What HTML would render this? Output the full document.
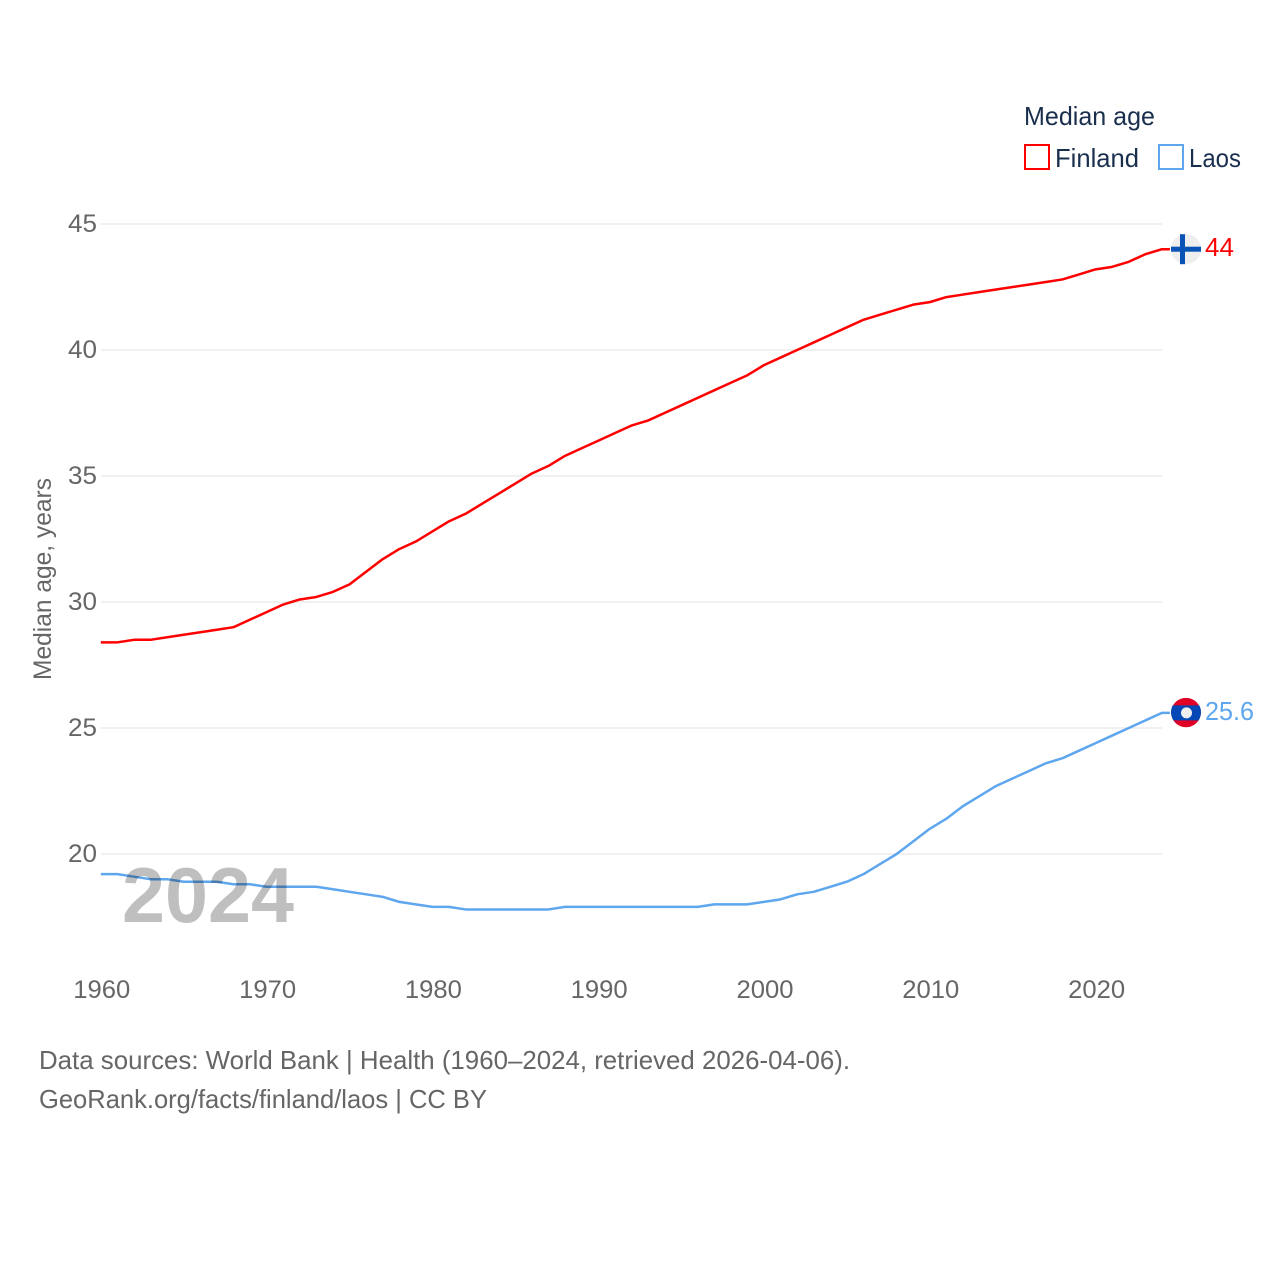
<!DOCTYPE html>
<html lang="en">
<head>
<meta charset="utf-8">
<title>Median age: Finland and Laos</title>
<style>
html,body{margin:0;padding:0;background:#fff}
svg{display:block}
text{font-family:"Liberation Sans",sans-serif}
</style>
</head>
<body>
<svg id="chart" xmlns="http://www.w3.org/2000/svg" width="1280" height="1280" viewBox="0 0 1280 1280">
  <defs>
    <clipPath id="laos-clip"><circle cx="1186" cy="712.3" r="15"/></clipPath>
  </defs>
  <g id="grid"></g>
  <g id="yticks"></g>
  <g id="xticks"></g>
  <text transform="translate(51,579) rotate(-90)" text-anchor="middle" font-size="25" fill="#666" textLength="202" lengthAdjust="spacingAndGlyphs">Median age, years</text>
  <g id="series"></g>
  <text x="122" y="922" font-size="78" font-weight="bold" fill="#000" fill-opacity="0.25" textLength="172" lengthAdjust="spacingAndGlyphs">2024</text>

  <g>
    <text x="1024" y="125" font-size="26" fill="#1a2f4d" textLength="131" lengthAdjust="spacingAndGlyphs">Median age</text>
    <g>
      <rect x="1025" y="145" width="24" height="24" fill="#fff" stroke="#ff0000" stroke-width="2"/>
      <text x="1055" y="167" font-size="26" fill="#1a2f4d" textLength="84" lengthAdjust="spacingAndGlyphs">Finland</text>
    </g>
    <g>
      <rect x="1159" y="145" width="24" height="24" fill="#fff" stroke="#5ea6ee" stroke-width="2"/>
      <text x="1189" y="167" font-size="26" fill="#1a2f4d" textLength="52" lengthAdjust="spacingAndGlyphs">Laos</text>
    </g>
  </g>

  <g id="flags"></g>

  <text x="39" y="1069" font-size="26" fill="#666" textLength="811" lengthAdjust="spacingAndGlyphs">Data sources: World Bank | Health (1960–2024, retrieved 2026-04-06).</text>
  <text x="39" y="1108" font-size="26" fill="#666" textLength="448" lengthAdjust="spacingAndGlyphs">GeoRank.org/facts/finland/laos | CC BY</text>
</svg>
<script>
const years = [1960,1961,1962,1963,1964,1965,1966,1967,1968,1969,1970,1971,1972,1973,1974,1975,1976,1977,1978,1979,1980,1981,1982,1983,1984,1985,1986,1987,1988,1989,1990,1991,1992,1993,1994,1995,1996,1997,1998,1999,2000,2001,2002,2003,2004,2005,2006,2007,2008,2009,2010,2011,2012,2013,2014,2015,2016,2017,2018,2019,2020,2021,2022,2023,2024];
const finland = [28.4,28.4,28.5,28.5,28.6,28.7,28.8,28.9,29.0,29.3,29.6,29.9,30.1,30.2,30.4,30.7,31.2,31.7,32.1,32.4,32.8,33.2,33.5,33.9,34.3,34.7,35.1,35.4,35.8,36.1,36.4,36.7,37.0,37.2,37.5,37.8,38.1,38.4,38.7,39.0,39.4,39.7,40.0,40.3,40.6,40.9,41.2,41.4,41.6,41.8,41.9,42.1,42.2,42.3,42.4,42.5,42.6,42.7,42.8,43.0,43.2,43.3,43.5,43.8,44.0];
const laos = [19.2,19.2,19.1,19.0,19.0,18.9,18.9,18.9,18.8,18.8,18.7,18.7,18.7,18.7,18.6,18.5,18.4,18.3,18.1,18.0,17.9,17.9,17.8,17.8,17.8,17.8,17.8,17.8,17.9,17.9,17.9,17.9,17.9,17.9,17.9,17.9,17.9,18.0,18.0,18.0,18.1,18.2,18.4,18.5,18.7,18.9,19.2,19.6,20.0,20.5,21.0,21.4,21.9,22.3,22.7,23.0,23.3,23.6,23.8,24.1,24.4,24.7,25.0,25.3,25.6];
const yTickValues = [20,25,30,35,40,45];
const xTickValues = [1960,1970,1980,1990,2000,2010,2020];

const NS = 'http://www.w3.org/2000/svg';
const xScale = function (year) { return 100.8 + (year - 1960) * 16.58; };
const yScale = function (value) { return 854 - (value - 20) * 25.2; };
const plotRight = xScale(2024);
const stubEnd = plotRight + 8;

function make(tag, attrs, parent) {
  const el = document.createElementNS(NS, tag);
  for (const k in attrs) el.setAttribute(k, attrs[k]);
  parent.appendChild(el);
  return el;
}

const gridGroup = document.getElementById('grid');
const yGroup = document.getElementById('yticks');
yTickValues.forEach(function (v) {
  const line = make('line', {x1: 101, x2: plotRight, y1: yScale(v), y2: yScale(v), stroke: '#ececec', 'stroke-width': 1.5}, gridGroup);
  
  
  const label = make('text', {x: 97, y: yScale(v) + 8, 'text-anchor': 'end', 'font-size': 25, fill: '#666', textLength: 29, lengthAdjust: 'spacingAndGlyphs'}, yGroup);
  
  
  label.textContent = v;
});

const xGroup = document.getElementById('xticks');
xTickValues.forEach(function (yr) {
  const label = make('text', {x: xScale(yr) + 1, y: 998, 'text-anchor': 'middle', 'font-size': 25, fill: '#666', textLength: 57, lengthAdjust: 'spacingAndGlyphs'}, xGroup);
  
  
  label.textContent = yr;
});

const seriesGroup = document.getElementById('series');
const flagGroup = document.getElementById('flags');

function drawLine(values, color, name) {
  const pts = values.map(function (v, i) { return xScale(years[i]).toFixed(2) + ',' + yScale(v).toFixed(2); });
  const last = values[values.length - 1];
  pts.push(stubEnd.toFixed(2) + ',' + yScale(last).toFixed(2));
  const line = make('polyline', {points: pts.join(' '), fill: 'none', stroke: color, 'stroke-width': 2.5, 'stroke-linejoin': 'round'}, seriesGroup);
  
  
}
drawLine(finland, '#ff0000', 'line-finland');
drawLine(laos, '#5ea6ee', 'line-laos');

const markerX = 1186;

function drawEndLabel(value, color, name, width) {
  const label = make('text', {x: 1205, y: yScale(value) + 7, 'font-size': 26, fill: color, textLength: width, lengthAdjust: 'spacingAndGlyphs'}, flagGroup);
  
  
  label.textContent = value;
}

const finY = yScale(finland[finland.length - 1]);
const finFlag = make('g', {}, flagGroup);


make('circle', {cx: markerX, cy: finY, r: 15, fill: '#eeeeee'}, finFlag);
make('rect', {x: markerX - 15, y: finY - 2.5, width: 30, height: 5, fill: '#0a52b5'}, finFlag);
make('rect', {x: markerX - 6, y: finY - 15, width: 5, height: 30, fill: '#0a52b5'}, finFlag);
drawEndLabel(finland[finland.length - 1], '#ff0000', 'end-label-finland', 29);

const laoY = yScale(laos[laos.length - 1]);
const laoFlag = make('g', {'clip-path': 'url(#laos-clip)'}, flagGroup);


make('circle', {cx: markerX, cy: laoY, r: 15, fill: '#e00025'}, laoFlag);
make('rect', {x: markerX - 15, y: laoY - 7.5, width: 30, height: 15, fill: '#0348b4'}, laoFlag);
make('circle', {cx: markerX + 0.5, cy: laoY, r: 5.5, fill: '#eeeeee'}, laoFlag);
drawEndLabel(laos[laos.length - 1], '#5ea6ee', 'end-label-laos', 49);
</script>
</body>
</html>
